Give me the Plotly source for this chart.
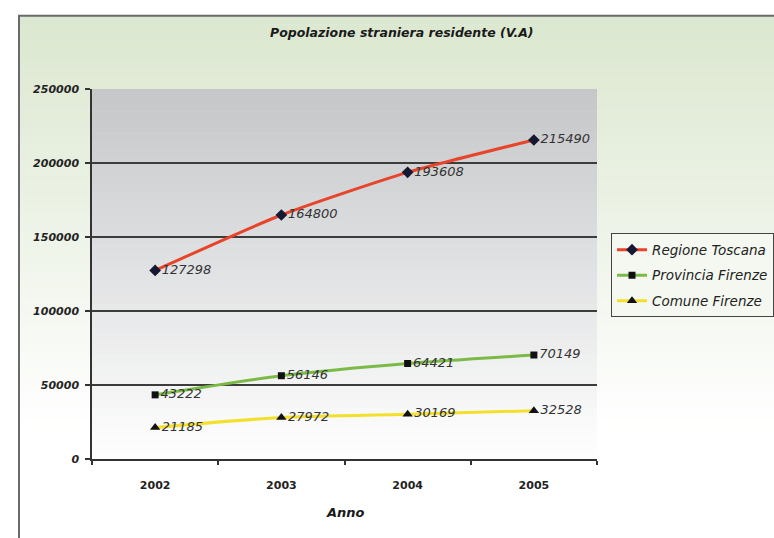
import plotly.graph_objects as go

W, H = 774, 538

anni = ["2002", "2003", "2004", "2005"]
regione_toscana = [127298, 164800, 193608, 215490]
provincia_firenze = [43222, 56146, 64421, 70149]
comune_firenze = [21185, 27972, 30169, 32528]
y_ticks = [0, 50000, 100000, 150000, 200000, 250000]

FONT = "DejaVu Sans, Verdana, sans-serif"

# plot area in pixels
PX0, PX1, PY0, PY1 = 92, 597, 85, 464


def px(x):
    return x / W


def py(y):
    return 1 - y / H


def blend(c0, c1, t):
    return "rgb(%d,%d,%d)" % tuple(round(a + (b - a) * t) for a, b in zip(c0, c1))


shapes = []

# chart background: light green fading to white
top_c, bot_c = (219, 231, 207), (255, 255, 255)
y_start, y_end, n = 10, 538, 60
for i in range(n):
    y0 = y_start + (y_end - y_start) * i / n
    y1 = y_start + (y_end - y_start) * (i + 1) / n
    t = min(1.0, (i + 0.5) / n * 1.25)
    shapes.append(dict(type="rect", xref="paper", yref="paper", layer="below",
                       x0=px(19), x1=1.02, y0=py(y1) - 0.001, y1=py(y0),
                       fillcolor=blend(top_c, bot_c, t), line_width=0))

# plot area background: grey fading to white
top_p, bot_p = (196, 198, 200), (255, 255, 255)
n = 50
for i in range(n):
    y0 = PY0 + (PY1 - PY0) * i / n
    y1 = PY0 + (PY1 - PY0) * (i + 1) / n
    t = (i + 0.5) / n
    shapes.append(dict(type="rect", xref="paper", yref="paper", layer="below",
                       x0=px(PX0), x1=px(PX1), y0=py(y1) - 0.001, y1=py(y0),
                       fillcolor=blend(top_p, bot_p, t), line_width=0))

# outer chart frame
shapes.append(dict(type="rect", xref="paper", yref="paper", layer="above",
                   x0=px(19), x1=1.05, y0=-0.05, y1=py(10),
                   line=dict(color="#6a6a6a", width=2), fillcolor="rgba(0,0,0,0)"))

label_font = dict(family=FONT, size=13, color="#333333", style="italic")

series = [
    ("Regione Toscana", regione_toscana, "#e8432b", "diamond", "#141833", 9),
    ("Provincia Firenze", provincia_firenze, "#7cba48", "square", "#111111", 7),
    ("Comune Firenze", comune_firenze, "#f2e02c", "triangle-up", "#111111", 9),
]

fig = go.Figure()
for name, vals, lc, sym, mc, ms in series:
    fig.add_trace(go.Scatter(
        x=anni, y=vals, name=name, legendgroup=name,
        mode="lines+markers+text",
        text=[str(v) for v in vals], textposition="middle right",
        textfont=label_font,
        line=dict(color=lc, width=3, shape="spline", smoothing=0.6),
        marker=dict(symbol=sym, color=mc, size=ms),
        cliponaxis=False,
    ))

fig.update_layout(
    width=W, height=H, autosize=False,
    margin=dict(l=0, r=0, t=0, b=0),
    paper_bgcolor="white", plot_bgcolor="rgba(0,0,0,0)",
    shapes=shapes,
    showlegend=True,
    legend=dict(x=px(611), y=py(233), xanchor="left", yanchor="top",
                bgcolor="#f4f8f0", bordercolor="#444444", borderwidth=1,
                font=dict(family=FONT, size=13.5, color="#222222", style="italic"),
                tracegroupgap=5, itemwidth=30),
    xaxis=dict(domain=[px(PX0), px(PX1)], type="category", range=[-0.5, 3.5],
               tickson="boundaries", ticks="outside", ticklen=4,
               tickcolor="#333333", tickwidth=1.5,
               showline=True, linecolor="#333333", linewidth=1.5,
               showgrid=False, ticklabelstandoff=15,
               tickfont=dict(family=FONT, size=11, color="#222222", weight="bold")),
    yaxis=dict(domain=[py(PY1), py(PY0)], range=[0, 250000],
               tickvals=y_ticks, ticktext=[str(v) for v in y_ticks],
               ticks="outside", ticklen=5, tickcolor="#333333", tickwidth=1.5,
               showline=True, linecolor="#333333", linewidth=1.5,
               showgrid=True, gridcolor="#3c3c3c", gridwidth=1.5,
               zeroline=False, ticklabelstandoff=4,
               tickfont=dict(family=FONT, size=11, color="#222222",
                             weight="bold", style="italic")),
    annotations=[
        dict(text="Popolazione straniera residente (V.A)", xref="paper", yref="paper",
             x=px(402), y=py(27), showarrow=False, xanchor="center", yanchor="middle",
             font=dict(family=FONT, size=12.5, color="#1a1a1a", weight="bold", style="italic")),
        dict(text="Anno", xref="paper", yref="paper",
             x=px(345), y=py(519), showarrow=False, xanchor="center", yanchor="middle",
             font=dict(family=FONT, size=13, color="#1a1a1a", weight="bold", style="italic")),
    ],
)

fig.write_html("out.html")
